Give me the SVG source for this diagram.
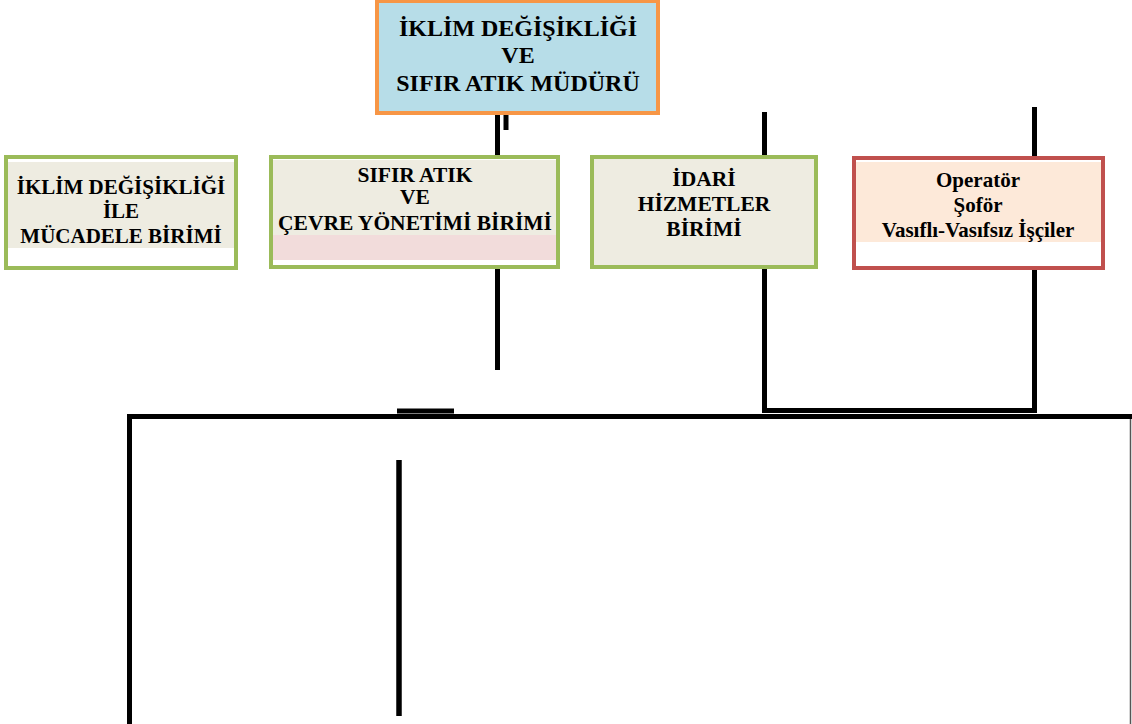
<svg xmlns="http://www.w3.org/2000/svg" width="1132" height="724" viewBox="0 0 1132 724">
<style>
.t{font-family:"Liberation Serif","Times New Roman",serif;font-weight:bold;fill:#000;text-anchor:middle}
.ln{stroke:#000;fill:none}
</style>
<rect width="1132" height="724" fill="#fff"/>
<g id="connectors">
<line class="ln" x1="497.5" y1="113" x2="497.5" y2="157" stroke-width="5"/>
<line class="ln" x1="506" y1="113" x2="506" y2="130" stroke-width="5"/>
<line class="ln" x1="497.5" y1="268" x2="497.5" y2="370" stroke-width="5"/>
<line class="ln" x1="764.5" y1="112" x2="764.5" y2="411" stroke-width="5"/>
<line class="ln" x1="1034.5" y1="107" x2="1034.5" y2="411" stroke-width="5"/>
<line class="ln" x1="762" y1="410.5" x2="1037" y2="410.5" stroke-width="5"/>
<line class="ln" x1="127" y1="416.5" x2="1132" y2="416.5" stroke-width="5"/>
<line class="ln" x1="129.5" y1="414" x2="129.5" y2="724" stroke-width="5"/>
<line class="ln" x1="399" y1="460" x2="399" y2="716" stroke-width="5.5"/>
<line class="ln" x1="397" y1="411" x2="454" y2="411" stroke-width="5"/>
<line x1="1130.5" y1="419" x2="1130.5" y2="724" stroke="#555" stroke-width="1.5"/>
</g>
<g id="node-mudur">
<rect x="377" y="1" width="281" height="112" fill="#b7dde8" stroke="#f79646" stroke-width="4"/>
<text class="t" x="518" y="36" font-size="24">İKLİM DEĞİŞİKLİĞİ</text>
<text class="t" x="518" y="63" font-size="24">VE</text>
<text class="t" x="518" y="91" font-size="24">SIFIR ATIK MÜDÜRÜ</text>
</g>
<g id="node-iklim">
<rect x="6" y="157" width="230" height="111" fill="#fff" stroke="#9bbb59" stroke-width="4"/>
<rect x="8" y="162" width="226" height="86" fill="#eeece1"/>
<text class="t" x="121" y="194" font-size="21">İKLİM DEĞİŞİKLİĞİ</text>
<text class="t" x="121" y="218" font-size="21">İLE</text>
<text class="t" x="121" y="243" font-size="21">MÜCADELE BİRİMİ</text>
</g>
<g id="node-sifir">
<rect x="271" y="157" width="287" height="110" fill="#fff" stroke="#9bbb59" stroke-width="4"/>
<rect x="273" y="160" width="283" height="75" fill="#eeece1"/>
<rect x="273" y="235" width="283" height="25" fill="#f2dcdb"/>
<text class="t" x="415" y="182" font-size="21.5">SIFIR ATIK</text>
<text class="t" x="415" y="204" font-size="21.5">VE</text>
<text class="t" x="415" y="230" font-size="21.5">ÇEVRE YÖNETİMİ BİRİMİ</text>
</g>
<g id="node-idari">
<rect x="592" y="157" width="224" height="110" fill="#eeece1" stroke="#9bbb59" stroke-width="4"/>
<text class="t" x="704" y="186" font-size="21.5">İDARİ</text>
<text class="t" x="704" y="211" font-size="21.5">HİZMETLER</text>
<text class="t" x="704" y="236" font-size="21.5">BİRİMİ</text>
</g>
<g id="node-operator">
<rect x="854" y="158" width="249" height="110" fill="#fff" stroke="#c0504d" stroke-width="4"/>
<rect x="856" y="162" width="245" height="80" fill="#fde9d9"/>
<text class="t" x="978" y="187" font-size="21">Operatör</text>
<text class="t" x="978" y="212" font-size="21">Şoför</text>
<text class="t" x="978" y="237" font-size="21">Vasıflı-Vasıfsız İşçiler</text>
</g>
</svg>
